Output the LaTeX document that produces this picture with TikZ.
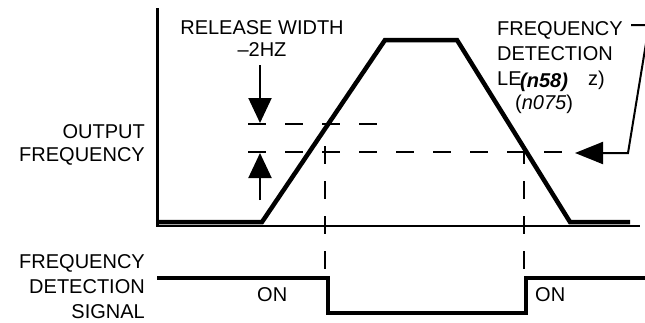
\documentclass[tikz,border=0pt]{standalone}
\usepackage{fontspec}
\setmainfont{Liberation Sans}
\usetikzlibrary{arrows.meta}
\begin{document}
\begin{tikzpicture}[x=1pt,y=-1pt,
  lbl/.style={inner sep=0pt, font=\fontsize{20}{24}\selectfont},
  trace/.style={line width=4.5pt, line join=miter},
  vaxis/.style={line width=3pt},
  haxis/.style={line width=1.8pt},
  guide/.style={line width=1.5pt, dash pattern=on 18pt off 19pt},
  vguide/.style={line width=1.5pt, dash pattern=on 18pt off 17pt},
  pointer/.style={line width=2pt, -{Triangle[length=25pt,width=23pt]}},
  callout/.style={line width=2pt, line join=miter, -{Triangle[length=28pt,width=22pt]}},
]
\useasboundingbox (0,0) rectangle (645,322);
% axes
\coordinate (axtop) at (157,8);
\coordinate (axorg) at (157,227);
\coordinate (axend) at (640,226);
\coordinate (axorgh) at (157,226);
\draw[vaxis] (axtop) -- (axorg);
\draw[haxis] (axorgh) -- (axend);
% frequency trace
\coordinate (t0) at (157,222);
\coordinate (t1) at (262,222);
\coordinate (t2) at (385,40);
\coordinate (t3) at (457,40);
\coordinate (t4) at (570,222);
\coordinate (t5) at (630,222);
\draw[trace] (t0) -- (t1) -- (t2) -- (t3) -- (t4) -- (t5);
% guide lines
\coordinate (ua) at (248,124);
\coordinate (ub) at (378,124);
\coordinate (la) at (248,152);
\coordinate (lb) at (563,152);
\draw[guide] (ua) -- (ub);
\draw[guide] (la) -- (lb);
\coordinate (v1a) at (325,146);
\coordinate (v1b) at (325,270);
\coordinate (v2a) at (524,146);
\coordinate (v2b) at (524,270);
\draw[vguide] (v1a) -- (v1b);
\draw[vguide] (v2a) -- (v2b);
% detection signal
\coordinate (s0) at (157,278);
\coordinate (s1) at (328,278);
\coordinate (s2) at (328,313);
\coordinate (s3) at (526,313);
\coordinate (s4) at (526,278);
\coordinate (s5) at (648,278);
\draw[trace] (s0) -- (s1) -- (s2) -- (s3) -- (s4) -- (s5);
% release width arrows
\coordinate (da) at (260,65);
\coordinate (db) at (260,123);
\coordinate (ea) at (260,200);
\coordinate (eb) at (260,153);
\draw[pointer] (da) -- (db);
\draw[pointer] (ea) -- (eb);
% callout
\coordinate (c0) at (631,25);
\coordinate (c1) at (649,25);
\coordinate (c2) at (628,153);
\coordinate (c3) at (575,153);
\draw[callout] (c0) -- (c1) -- (c2) -- (c3);
% labels
\node[lbl, anchor=base] (rw) at (262,34) {RELEASE WIDTH};
\node[lbl, anchor=base] (hz) at (262,56) {–2HZ};
\node[lbl, anchor=base east] (of1) at (145,138) {OUTPUT};
\node[lbl, anchor=base east] (of2) at (145,161) {FREQUENCY};
\node[lbl, anchor=base east] (fd1) at (145,268) {FREQUENCY};
\node[lbl, anchor=base east] (fd2) at (145,293) {DETECTION};
\node[lbl, anchor=base east] (fd3) at (145,318) {SIGNAL};
\node[lbl, anchor=base west] (on1) at (257,301) {ON};
\node[lbl, anchor=base west] (on2) at (535,301) {ON};
\node[lbl, anchor=base west] (fl1) at (497,35) {FREQUENCY};
\node[lbl, anchor=base west] (fl2) at (497,60) {DETECTION};
\node[lbl, anchor=base west] (fl3) at (497,85) {LE};
\node[lbl, anchor=base west] (fl4) at (520,87) {\bfseries\itshape (n58)};
\node[lbl, anchor=base west] (fl5) at (588,85) {z)};
\node[lbl, anchor=base west] (fl6) at (515,109) {(\itshape n075\upshape)};
\end{tikzpicture}
\end{document}
